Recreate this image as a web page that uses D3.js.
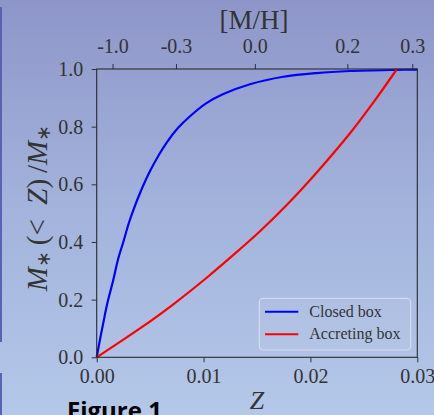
<!DOCTYPE html>
<html><head><meta charset="utf-8">
<script src="https://cdn.jsdelivr.net/npm/d3@7"></script>
<style>html,body{margin:0;padding:0;overflow:hidden}svg{display:block}</style>
</head><body>
<svg id="c" width="434" height="415"></svg>
<script>
// ---- data ----
const seriesNames = ["Closed box", "Accreting box"];
const seriesColors = ["#0000ff", "#ff0000"];
const zClosed = [0, 0.0003, 0.00062, 0.001, 0.00155, 0.002, 0.00249, 0.003, 0.00342, 0.0042, 0.00499, 0.0058, 0.00655, 0.0076, 0.00873, 0.0102, 0.01185, 0.01434, 0.01746, 0.02059, 0.0237, 0.0281, 0.03];
const fClosed = [0, 0.060, 0.120, 0.188, 0.268, 0.340, 0.400, 0.465, 0.510, 0.583, 0.646, 0.701, 0.745, 0.795, 0.836, 0.880, 0.913, 0.947, 0.973, 0.986, 0.993, 0.997, 0.998];
const zAccreting = [0, 0.002, 0.00405, 0.00717, 0.01029, 0.01341, 0.01528, 0.01778, 0.02059, 0.0237, 0.0262, 0.0281];
const fAccreting = [0, 0.049, 0.100, 0.184, 0.276, 0.375, 0.437, 0.528, 0.641, 0.777, 0.900, 1.0];
const zTicks = [0, 0.01, 0.02, 0.03];
const yTicks = [0, 0.2, 0.4, 0.6, 0.8, 1.0];
const mhTicks = [-1.0, -0.3, 0.0, 0.2, 0.3];
const mhLabels = ["-1.0", "-0.3", "0.0", "0.2", "0.3"];
const zSun = 0.0148;

const svg = d3.select("#c");
const L = 96.7, R = 417.3, T = 69, B = 357.3;
const x = d3.scaleLinear().domain([0, 0.03]).range([L, R]);
const y = d3.scaleLinear().domain([0, 1]).range([B, T]);

// background gradient
const defs = svg.append("defs");
const g = defs.append("linearGradient").attr("id", "bg").attr("x1", 0).attr("y1", 0).attr("x2", 0).attr("y2", 1);
g.append("stop").attr("offset", "0%").attr("stop-color", "#8e96c9");
g.append("stop").attr("offset", "50%").attr("stop-color", "#a3b3dc");
g.append("stop").attr("offset", "100%").attr("stop-color", "#b4c8e9");
svg.append("rect").attr("width", 434).attr("height", 415).attr("fill", "url(#bg)");
svg.append("rect").attr("x", 0).attr("y", 7).attr("width", 2).attr("height", 335).attr("fill", "#5a63b3");
svg.append("rect").attr("x", 0).attr("y", 373).attr("width", 2).attr("height", 42).attr("fill", "#5a63b3");

const tickFont = "'Liberation Serif', 'Times New Roman', serif";
const txtColor = "#333";

// curves
const line = d3.line().x(d => x(d[0])).y(d => y(d[1])).curve(d3.curveCatmullRom.alpha(0.5));
const dataClosed = zClosed.map((z, i) => [z, fClosed[i]]);
const dataAcc = zAccreting.map((z, i) => [z, fAccreting[i]]);
svg.append("path").datum(dataClosed).attr("d", line).attr("fill", "none")
  .attr("stroke", seriesColors[0]).attr("stroke-width", 2.2);
svg.append("path").datum(dataAcc).attr("d", line).attr("fill", "none")
  .attr("stroke", seriesColors[1]).attr("stroke-width", 2.2);

// axes
function styleAxis(sel) {
  sel.select(".domain").remove();
  sel.selectAll(".tick line").attr("stroke", "#333").attr("stroke-width", 1);
  sel.selectAll(".tick text").attr("fill", txtColor).style("font-family", tickFont).style("font-size", "20px");
}
const ax = svg.append("g").attr("transform", `translate(0,${B})`)
  .call(d3.axisBottom(x).tickValues(zTicks).tickFormat(d3.format(".2f")).tickSize(5).tickPadding(6.5));
styleAxis(ax);
const at = svg.append("g").attr("transform", `translate(0,${T})`)
  .call(d3.axisTop(x).tickValues(mhTicks.map(m => zSun * Math.pow(10, m))).tickFormat((d, i) => mhLabels[i]).tickSize(5).tickPadding(11));
styleAxis(at);
const ay = svg.append("g").attr("transform", `translate(${L},0)`)
  .call(d3.axisLeft(y).tickValues(yTicks).tickFormat(d3.format(".1f")).tickSize(5).tickPadding(8.5));
styleAxis(ay);

// frame
svg.append("rect").attr("x", L).attr("y", T).attr("width", R - L).attr("height", B - T)
  .attr("fill", "none").attr("stroke", "#2a2a2a").attr("stroke-width", 1.1);

// axis titles
svg.append("text").attr("x", 257).attr("y", 409).attr("text-anchor", "middle")
  .style("font-family", tickFont).style("font-size", "26px").style("font-style", "italic")
  .attr("fill", txtColor).text("Z");
svg.append("text").attr("x", 254).attr("y", 29).attr("text-anchor", "middle")
  .style("font-family", tickFont).style("font-size", "27px")
  .attr("fill", txtColor).text("[M/H]");
const yl = svg.append("text").attr("transform", "translate(47,208) rotate(-90)").attr("text-anchor", "middle")
  .style("font-family", tickFont).style("font-size", "29px").attr("fill", txtColor);
yl.append("tspan").style("font-style", "italic").text("M");
yl.append("tspan").style("font-size", "19px").attr("dy", 3).text("∗");
yl.append("tspan").attr("dy", -3).text("\u2009(<\u2002");
yl.append("tspan").style("font-style", "italic").text("Z");
yl.append("tspan").text(")\u2009/");
yl.append("tspan").style("font-style", "italic").text("M");
yl.append("tspan").style("font-size", "19px").attr("dy", 3).text("∗");

// legend
const lg = svg.append("g");
lg.append("rect").attr("x", 259.3).attr("y", 298.3).attr("width", 151.4).attr("height", 51.7).attr("rx", 4)
  .attr("fill", "rgba(255,255,255,0.06)").attr("stroke", "rgba(225,230,240,0.75)").attr("stroke-width", 1.2);
seriesNames.forEach((n, i) => {
  const yy = 311.7 + i * 22.6;
  lg.append("line").attr("x1", 265).attr("x2", 298.3).attr("y1", yy).attr("y2", yy)
    .attr("stroke", seriesColors[i]).attr("stroke-width", 2);
  lg.append("text").attr("x", 309.3).attr("y", yy + 4.8).style("font-family", tickFont).style("font-size", "16px")
    .attr("fill", txtColor).text(n);
});

// slide caption
svg.append("text").attr("x", 67).attr("y", 419).style("font-family", "'Open Sans', sans-serif")
  .style("font-weight", "bold").style("font-size", "24px").attr("fill", "#000").text("Figure 1");
</script>
</body></html>
